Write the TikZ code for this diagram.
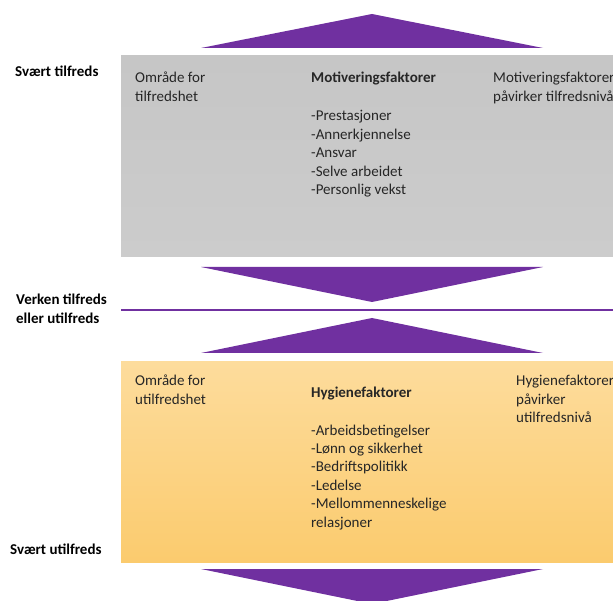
\documentclass[tikz,border=0pt]{standalone}
\usepackage{fontspec}
\setmainfont{Carlito}
\definecolor{purp}{HTML}{7030A0}
\definecolor{txt}{HTML}{262626}
\definecolor{grayTop}{HTML}{C6C6C6}
\definecolor{grayBot}{HTML}{CCCCCC}
\definecolor{orTop}{HTML}{FDDC9C}
\definecolor{orBot}{HTML}{FBCB6E}
\begin{document}
\begin{tikzpicture}[x=1pt,y=-1pt,
  lbl/.style={anchor=base west,inner sep=0pt,align=left,text=black,font=\fontsize{15}{18.4}\selectfont\bfseries},
  body/.style={anchor=base west,inner sep=0pt,align=left,text=txt,font=\fontsize{15}{18.4}\selectfont},
  head/.style={body,font=\fontsize{15}{18.4}\selectfont\bfseries},
  tri/.style={fill=purp,draw=none}]
\useasboundingbox (0,0) rectangle (613,601);
\clip (0,0) rectangle (613,601);
% boxes
\shade[top color=grayTop,bottom color=grayBot] (121,56) rectangle (613,257);
\shade[top color=orTop,bottom color=orBot] (121,362) rectangle (613,562);
% triangles
\fill[tri] (201,48) -- (372,14) -- (543,48) -- cycle;
\fill[tri] (201,267) -- (372,302) -- (543,267) -- cycle;
\fill[tri] (201,353) -- (372,318) -- (543,353) -- cycle;
\fill[tri] (201,569) -- (372,604) -- (543,569) -- cycle;
% divider
\coordinate (lineL) at (121,310);
\coordinate (lineR) at (613,310);
\draw[purp,line width=1.6pt] (lineL) -- (lineR);
% left labels (anchor = baseline of last line)
\node[lbl] (st) at (15,77) {Svært tilfreds};
\node[lbl] (vt) at (16,323.4) {Verken tilfreds\\eller utilfreds};
\node[lbl] (su) at (10,554) {Svært utilfreds};
% gray box texts
\node[body] (omt) at (135,101.4) {Område for\\tilfredshet};
\node[head] (mot) at (311,83) {Motiveringsfaktorer};
\node[body] (motl) at (311,194.6) {-Prestasjoner\\-Annerkjennelse\\-Ansvar\\-Selve arbeidet\\-Personlig vekst};
\node[body] (motr) at (493,101.4) {Motiveringsfaktorer\\påvirker tilfredsnivå};
% orange box texts
\node[body] (omu) at (135,404.4) {Område for\\utilfredshet};
\node[head] (hyg) at (311,398) {Hygienefaktorer};
\node[body] (hygl) at (311,527) {-Arbeidsbetingelser\\-Lønn og sikkerhet\\-Bedriftspolitikk\\-Ledelse\\-Mellommenneskelige\\relasjoner};
\node[body] (hygr) at (516,422.8) {Hygienefaktorer\\påvirker\\utilfredsnivå};
\end{tikzpicture}
\end{document}
